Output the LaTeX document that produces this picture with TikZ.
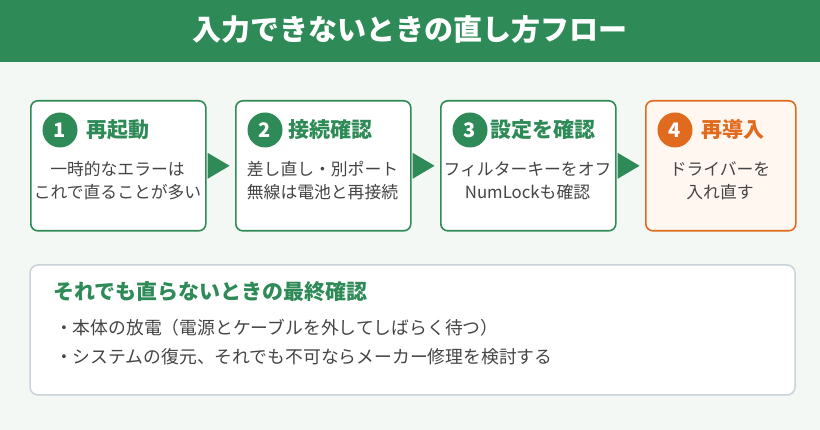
\documentclass[tikz,border=0pt]{standalone}
\usepackage{fontspec}
\setmainfont{Noto Sans CJK JP}
\usetikzlibrary{positioning,calc}
\definecolor{tgreen}{HTML}{2E8B57}
\definecolor{torange}{HTML}{E06A1E}
\definecolor{tbg}{HTML}{F4F8F4}
\definecolor{tgray}{HTML}{444444}
\definecolor{tframe}{HTML}{C9D3D9}
\tikzset{
  stepbox/.style={draw=tgreen, line width=1.6pt, fill=white, rounded corners=7pt,
    minimum width=175pt, minimum height=130pt, anchor=north west},
  num/.style={circle, fill=#1, text=white, minimum size=35pt, inner sep=0pt,
    font=\fontsize{20}{20}\selectfont\bfseries},
  head/.style={anchor=west, inner sep=0pt, text=#1, font=\fontsize{21}{21}\selectfont\bfseries},
  body/.style={text=tgray, align=center, font=\fontsize{16.8}{23}\selectfont},
  bullet/.style={anchor=west, inner sep=0pt, text=tgray, font=\fontsize{17.8}{18}\selectfont},
  tri/.style={fill=tgreen}
}
\begin{document}
\begin{tikzpicture}[x=1pt,y=-1pt]
		
		% Background and title bar
		\fill[tbg] (0,0) rectangle (820,430);
		\fill[tgreen] (0,0) rectangle (820,62);
		\node (title) at (410,30) [text=white, font=\fontsize{29}{29}\selectfont\bfseries] {入力できないときの直し方フロー};
		
		% Steps
		\node[stepbox] (s1) at (30,100) {};
		\node[stepbox] (s2) at (235,100) {};
		\node[stepbox] (s3) at (440,100) {};
		\node[stepbox, draw=torange, fill=orange!6, minimum width=150pt] (s4) at (645,100) {};
		
		\node[num=tgreen] (n1) at (60,130) {1};
		\node[head=tgreen, right=9pt of n1] (h1) {再起動};
		\node[body] (b1) at (117.5,181) {一時的なエラーは\\これで直ることが多い};
		
		\node[num=tgreen] (n2) at (265,130) {2};
		\node[head=tgreen, right=6pt of n2] (h2) {接続確認};
		\node[body] (b2) at (322.5,181) {差し直し・別ポート\\無線は電池と再接続};
		
		\node[num=tgreen] (n3) at (470,130) {3};
		\node[head=tgreen, right=3pt of n3] (h3) {設定を確認};
		\node[body] (b3) at (527.5,181) {フィルターキーをオフ\\NumLockも確認};
		
		\node[num=torange] (n4) at (675,130) {4};
		\node[head=torange, right=9pt of n4] (h4) {再導入};
		\node[body] (b4) at (720,181) {ドライバーを\\入れ直す};
		
		% Arrows between steps
		\foreach \a/\b in {s1/s2, s2/s3, s3/s4}
		\fill[tri] ($(\a.east)+(1,-13)$) -- ($(\a.east)+(23,0)$) -- ($(\a.east)+(1,13)$) -- cycle;
		
		% Last resort box
		\draw[tframe, line width=1.5pt, fill=white, rounded corners=8pt] (30,265) rectangle (795,395);
		\node[head=tgreen] (lt) at (53,292) {それでも直らないときの最終確認};
		\node[bullet] (l1) at (55,328) {・本体の放電（電源とケーブルを外してしばらく待つ）};
		\node[bullet] (l2) at (55,357) {・システムの復元、それでも不可ならメーカー修理を検討する};
		
	\end{tikzpicture}
\end{document}
